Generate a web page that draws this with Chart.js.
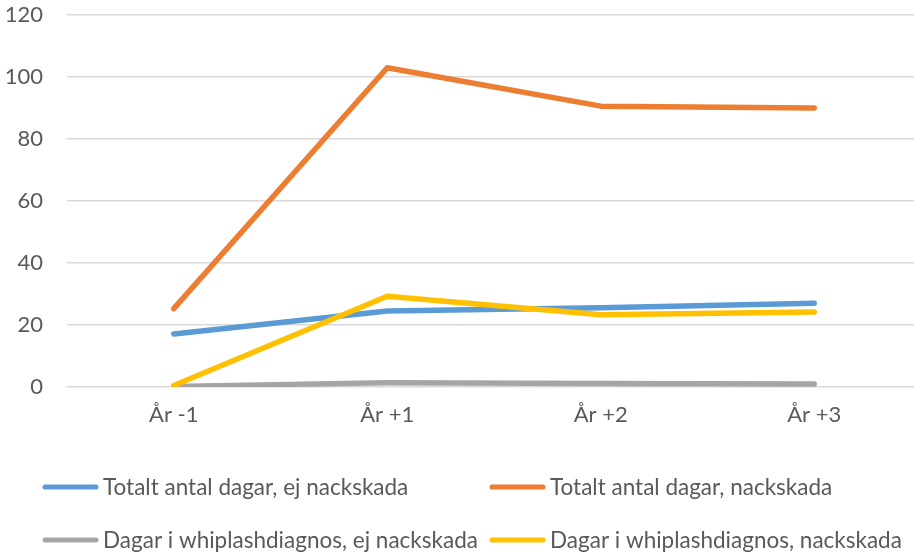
<!DOCTYPE html>
<html>
<head>
<meta charset="utf-8">
<script src="https://cdn.jsdelivr.net/npm/chart.js@4.4.1/dist/chart.umd.min.js"></script>
<style>
html,body{margin:0;padding:0;background:#fff;overflow:hidden;width:914px;height:553px;}
canvas{display:block;}
</style>
</head>
<body>
<canvas id="c" width="930" height="553"></canvas>
<script>
const categories = ["År -1", "År +1", "År +2", "År +3"];
const seriesNames = [
  "Totalt antal dagar, ej nackskada",
  "Totalt antal dagar, nackskada",
  "Dagar i whiplashdiagnos, ej nackskada",
  "Dagar i whiplashdiagnos, nackskada"
];
const totalEj = [17.1, 24.5, 25.6, 27.0];
const totalNack = [25.3, 103.0, 90.6, 90.0];
const whipEj = [0.2, 1.4, 1.1, 1.0];
const whipNack = [0.5, 29.3, 23.3, 24.2];
const yTicks = [0, 20, 40, 60, 80, 100, 120];

const colors = ["#5B9BD5", "#ED7D31", "#A5A5A5", "#FFC000"];
const FONT = "Lato, 'Open Sans', sans-serif";
const TEXT = "#595959";

const legendPlugin = {
  id: 'gridLegend',
  afterDraw(chart) {
    const ctx = chart.ctx;
    const cols = [43, 490];
    const rows = [487, 540];
    ctx.save();
    ctx.font = "22.5px " + FONT;
    ctx.textBaseline = "middle";
    ctx.textAlign = "left";
    chart.data.datasets.forEach((ds, i) => {
      const x = cols[i % 2], y = rows[Math.floor(i / 2)];
      ctx.strokeStyle = ds.borderColor;
      ctx.lineWidth = 5;
      ctx.lineCap = "round";
      ctx.beginPath();
      ctx.moveTo(x + 2, y);
      ctx.lineTo(x + 53, y);
      ctx.stroke();
      ctx.fillStyle = TEXT;
      ctx.fillText(ds.label, x + 60, y + 1);
    });
    ctx.restore();
  }
};

const datasets = [totalEj, totalNack, whipEj, whipNack].map((d, i) => ({
  label: seriesNames[i],
  data: d,
  borderColor: colors[i],
  backgroundColor: colors[i],
  borderWidth: 5.5,
  pointRadius: 0,
  tension: 0,
  borderCapStyle: 'round',
  borderJoinStyle: 'round',
  fill: false
}));
datasets.forEach((d, i) => d.order = 4 - i);

new Chart(document.getElementById('c'), {
  type: 'line',
  data: { labels: categories, datasets },
  options: {
    responsive: false,
    animation: false,
    layout: { padding: { top: 15, right: 9, bottom: 0, left: 0 } },
    plugins: { legend: { display: false }, tooltip: { enabled: false } },
    scales: {
      x: {
        offset: true,
        grid: { display: false, drawTicks: false },
        border: { display: false },
        ticks: { color: TEXT, font: { family: FONT, size: 22 }, padding: 15, maxRotation: 0 },
        afterFit: s => { s.height = 166; }
      },
      y: {
        min: 0, max: 120,
        afterBuildTicks: s => { s.ticks = yTicks.map(v => ({ value: v })); },
        grid: { color: "#D9D9D9", lineWidth: 1.5, drawTicks: false },
        border: { display: false },
        ticks: { color: TEXT, font: { family: FONT, size: 22 }, padding: 24 },
        afterFit: s => { s.width = 67; s.paddingTop = 0; s.paddingBottom = 0; }
      }
    }
  },
  plugins: [legendPlugin]
});
</script>
</body>
</html>
